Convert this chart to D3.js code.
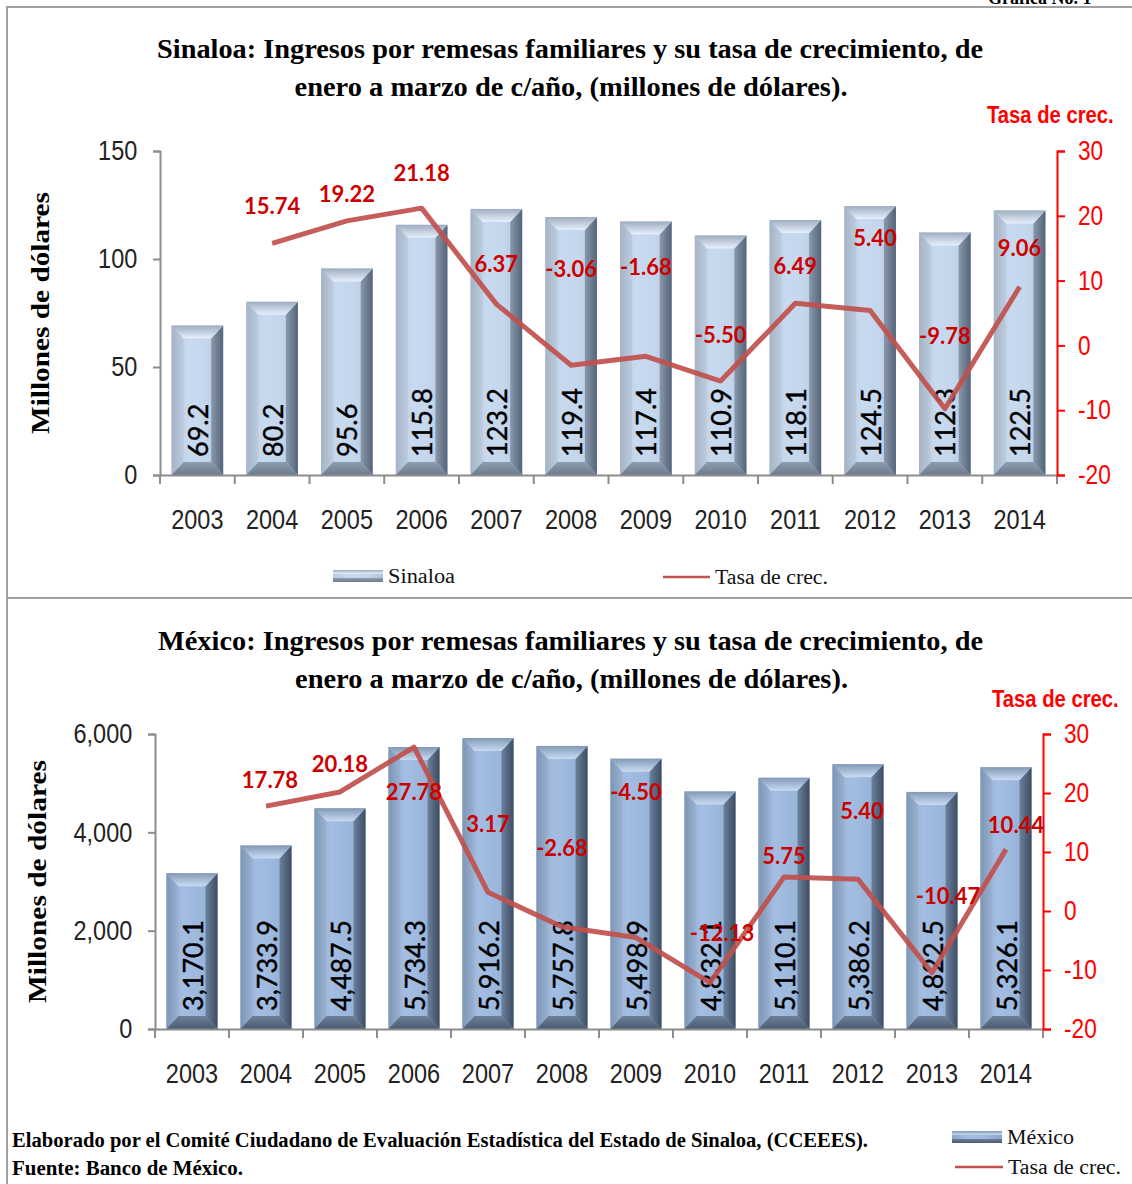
<!DOCTYPE html>
<html>
<head>
<meta charset="utf-8">
<script src="https://cdn.jsdelivr.net/npm/d3@7"></script>
<style>
    body { margin: 0; background: #fff; }
    svg { display: block; }
</style>
</head>
<body>
<svg id="chart" width="1132" height="1184"></svg>
<script>
// Data
var years = ["2003", "2004", "2005", "2006", "2007", "2008", "2009", "2010", "2011", "2012", "2013", "2014"];

var sinaloaRemesas = [69.2, 80.2, 95.6, 115.8, 123.2, 119.4, 117.4, 110.9, 118.1, 124.5, 112.3, 122.5];
var sinaloaTasa = [null, 15.74, 19.22, 21.18, 6.37, -3.06, -1.68, -5.50, 6.49, 5.40, -9.78, 9.06];

var mexicoRemesas = [3170.1, 3733.9, 4487.5, 5734.3, 5916.2, 5757.8, 5498.9, 4832.1, 5110.1, 5386.2, 4822.5, 5326.1];
var mexicoTasa = [null, 17.78, 20.18, 27.78, 3.17, -2.68, -4.50, -12.13, 5.75, 5.40, -10.47, 10.44];

var sinaloaTicks = [0, 50, 100, 150];
var mexicoTicks = [0, 2000, 4000, 6000];
var tasaTicks = [-20, -10, 0, 10, 20, 30];

// Label nudges (layout only), [dx, dy] from the line point
var sinaloaNudge = [null, [0, -38], [0, -27], [0, -36], [0, -41], [0, -97], [0, -90], [0, -47], [0, -38], [5, -73], [0, -73], [0, -39]];
var mexicoNudge = [null, [4, -27], [0, -28], [0, 44], [0, -69], [0, -79], [0, -146], [12, -50], [0, -22], [4, -69], [16, -77], [10, -25]];

var svg = d3.select("#chart");
var NARROW = "'Liberation Sans', Arial, sans-serif";
var SERIF = "'Liberation Serif', 'Times New Roman', serif";
var BODY = "Lato, Carlito, Calibri, sans-serif";
var SQUEEZE = "scale(0.84,1)"; // stands in for Arial Narrow

var defs = svg.append("defs");
// bevel shades per panel: face, top, left, right, bottom
makeBevel("top", {
    face: ["#b7c9df", "#c8daf0", "#c4d6ec", "#b2c4da"],
    top: ["#9eadc0", "#e6f0fb"],
    left: ["#a4b3c5", "#bccbdd"],
    right: ["#8a98aa", "#56647a"],
    bottom: ["#8e9cae", "#6d7b8e"]
});
makeBevel("bot", {
    face: ["#8ea9cc", "#a3bee2", "#9cb7dc", "#8ca6c9"],
    top: ["#8299b6", "#c9dbf2"],
    left: ["#7e96b5", "#9ab2d2"],
    right: ["#6d819c", "#3c4c62"],
    bottom: ["#6d8099", "#4a5a70"]
});

function makeBevel(id, c) {
    var f = defs.append("linearGradient").attr("id", id + "-face").attr("x1", 0).attr("x2", 1).attr("y1", 0).attr("y2", 0);
    c.face.forEach(function (s, i) { f.append("stop").attr("offset", (i / 3 * 100) + "%").attr("stop-color", s); });
    [["top", 0, 0, 0, 1], ["bottom", 0, 0, 0, 1], ["left", 0, 1, 0, 0], ["right", 0, 1, 0, 0]].forEach(function (p) {
        var g = defs.append("linearGradient").attr("id", id + "-" + p[0])
            .attr("x1", p[1]).attr("x2", p[2]).attr("y1", p[3]).attr("y2", p[4]);
        g.append("stop").attr("offset", "0%").attr("stop-color", c[p[0]][0]);
        g.append("stop").attr("offset", "100%").attr("stop-color", c[p[0]][1]);
    });
}

function plain(v) { return String(v); }
function fixed2(v) { return v.toFixed(2); }

// Frame
svg.append("line").attr("x1", 7).attr("x2", 1132).attr("y1", 7).attr("y2", 7)
    .attr("stroke", "#a0a0a0").attr("stroke-width", 2);
svg.append("line").attr("x1", 7).attr("x2", 7).attr("y1", 6).attr("y2", 1184)
    .attr("stroke", "#a0a0a0").attr("stroke-width", 2);
svg.append("line").attr("x1", 7).attr("x2", 1132).attr("y1", 598).attr("y2", 598)
    .attr("stroke", "#a0a0a0").attr("stroke-width", 2);
svg.append("text").attr("x", 988).attr("y", 4)
    .style("font-family", SERIF).style("font-weight", "bold").style("font-size", "18px")
    .text("Gráfica No. 1");

drawPanel({
    id: "top",
    title: ["Sinaloa: Ingresos por remesas familiares y su tasa de crecimiento, de",
            "enero a marzo de c/año, (millones de dólares)."],
    titleY: [58, 96], titleX: [157, 983],
    values: sinaloaRemesas, tasa: sinaloaTasa, nudge: sinaloaNudge,
    ticks: sinaloaTicks, format: plain,
    barFormat: d3.format(".1f"),
    left: 160, right: 1057, top: 151, bottom: 475,
    tasaLabelX: 987, tasaLabelY: 123,
    yTitleX: 40, yTitleLen: 242
});

drawPanel({
    id: "bot",
    title: ["México: Ingresos por remesas familiares y su tasa de crecimiento, de",
            "enero a marzo de c/año, (millones de dólares)."],
    titleY: [650, 688], titleX: [158, 983],
    values: mexicoRemesas, tasa: mexicoTasa, nudge: mexicoNudge,
    ticks: mexicoTicks, format: d3.format(","),
    barFormat: d3.format(",.1f"),
    left: 155, right: 1043, top: 734, bottom: 1029,
    tasaLabelX: 992, tasaLabelY: 707,
    yTitleX: 37, yTitleLen: 243
});

// Legends
legendBar(333, 576, "Sinaloa", "top");
legendLine(663, 710, 577, "Tasa de crec.");
legendBar(952, 1137, "México", "bot");
legendLine(955, 1003, 1167, "Tasa de crec.");

// Footer
svg.append("text").attr("x", 12).attr("y", 1147)
    .attr("textLength", 856).attr("lengthAdjust", "spacingAndGlyphs")
    .style("font-family", SERIF).style("font-weight", "bold").style("font-size", "20px")
    .text("Elaborado por el Comité Ciudadano de Evaluación Estadística del Estado de Sinaloa, (CCEEES).");
svg.append("text").attr("x", 12).attr("y", 1175)
    .attr("textLength", 231).attr("lengthAdjust", "spacingAndGlyphs")
    .style("font-family", SERIF).style("font-weight", "bold").style("font-size", "20px")
    .text("Fuente: Banco de México.");

function drawPanel(cfg) {
    var g = svg.append("g");

    // Title
    cfg.title.forEach(function (t, i) {
        g.append("text")
            .attr("x", (cfg.titleX[0] + cfg.titleX[1]) / 2 + (i ? 1 : 0))
            .attr("y", cfg.titleY[i])
            .attr("text-anchor", "middle")
            .attr("textLength", i === 0 ? cfg.titleX[1] - cfg.titleX[0] : 553)
            .attr("lengthAdjust", "spacingAndGlyphs")
            .style("font-family", SERIF).style("font-weight", "bold").style("font-size", "27px")
            .text(t);
    });

    var x = d3.scaleBand().domain(years).range([cfg.left, cfg.right]).paddingInner(0.31).paddingOuter(0.155);
    var y = d3.scaleLinear().domain([0, cfg.ticks[cfg.ticks.length - 1]]).range([cfg.bottom, cfg.top]);
    var y2 = d3.scaleLinear().domain([-20, 30]).range([cfg.bottom, cfg.top]);

    // Bars (bevelled)
    var bx = 12, by = 13;
    var bars = g.selectAll(".bar").data(cfg.values).enter().append("g").attr("class", "bar");
    bars.each(function (d, i) {
        var b = d3.select(this);
        var x0 = x(years[i]), w = x.bandwidth(), y0 = y(d), y1 = y(0);
        b.append("rect").attr("x", x0).attr("y", y0).attr("width", w).attr("height", y1 - y0)
            .attr("fill", "url(#" + cfg.id + "-face)");
        b.append("polygon").attr("points", [[x0, y0], [x0 + bx, y0 + by], [x0 + bx, y1 - by], [x0, y1]].join(" "))
            .attr("fill", "url(#" + cfg.id + "-left)");
        b.append("polygon").attr("points", [[x0 + w, y0], [x0 + w - bx, y0 + by], [x0 + w - bx, y1 - by], [x0 + w, y1]].join(" "))
            .attr("fill", "url(#" + cfg.id + "-right)");
        b.append("polygon").attr("points", [[x0, y0], [x0 + w, y0], [x0 + w - bx, y0 + by], [x0 + bx, y0 + by]].join(" "))
            .attr("fill", "url(#" + cfg.id + "-top)");
        b.append("polygon").attr("points", [[x0, y1], [x0 + w, y1], [x0 + w - bx, y1 - by], [x0 + bx, y1 - by]].join(" "))
            .attr("fill", "url(#" + cfg.id + "-bottom)");
        b.append("text")
            .attr("transform", "translate(" + (x0 + w / 2) + "," + (y1 - 18) + ") rotate(-90)")
            .attr("dominant-baseline", "central")
            .style("font-family", BODY).style("font-size", "27px").style("fill", "#000")
            .style("stroke", "#000").style("stroke-width", 0.4)
            .text(cfg.barFormat(d));
    });

    // Left axis
    var ay = g.append("g").attr("transform", "translate(" + cfg.left + ",0)")
        .call(d3.axisLeft(y).tickValues(cfg.ticks).tickFormat(cfg.format).tickSize(7).tickPadding(20));
    ay.select(".domain").attr("stroke", "#8c8c8c").attr("stroke-width", 2);
    ay.selectAll(".tick line").attr("stroke", "#8c8c8c").attr("stroke-width", 2);
    ay.selectAll(".tick text").attr("transform", SQUEEZE)
        .style("font-family", NARROW).style("font-size", "28px").style("fill", "#222");

    // Bottom axis
    var ax = g.append("g").attr("transform", "translate(0," + cfg.bottom + ")")
        .call(d3.axisBottom(x).tickSize(0).tickPadding(34));
    ax.select(".domain").attr("stroke", "#8c8c8c").attr("stroke-width", 2);
    ax.selectAll(".tick text").attr("transform", SQUEEZE)
        .style("font-family", NARROW).style("font-size", "28px").style("fill", "#222");
    var bounds = d3.range(years.length + 1).map(function (i) { return cfg.left + (cfg.right - cfg.left) * i / years.length; });
    g.selectAll(".xtick").data(bounds).enter().append("line")
        .attr("x1", function (d) { return d; }).attr("x2", function (d) { return d; })
        .attr("y1", cfg.bottom).attr("y2", cfg.bottom + 9)
        .attr("stroke", "#8c8c8c").attr("stroke-width", 2);

    // Right axis
    var ar = g.append("g").attr("transform", "translate(" + cfg.right + ",0)")
        .call(d3.axisRight(y2).tickValues(tasaTicks).tickFormat(plain).tickSize(8).tickPadding(17));
    ar.select(".domain").attr("stroke", "#ff0000").attr("stroke-width", 2);
    ar.selectAll(".tick line").attr("stroke", "#ff0000").attr("stroke-width", 2);
    ar.selectAll(".tick text").attr("transform", SQUEEZE)
        .style("font-family", NARROW).style("font-size", "27px").style("fill", "#ff0000");

    g.append("text")
        .attr("transform", "translate(" + cfg.tasaLabelX + "," + cfg.tasaLabelY + ") scale(0.88,1)")
        .style("font-family", NARROW).style("font-weight", "bold").style("font-size", "23px").style("fill", "#ff0000")
        .text("Tasa de crec.");

    // Y title
    g.append("text")
        .attr("transform", "translate(" + cfg.yTitleX + "," + (cfg.top + cfg.bottom) / 2 + ") rotate(-90)")
        .attr("text-anchor", "middle").attr("dominant-baseline", "central")
        .attr("textLength", cfg.yTitleLen).attr("lengthAdjust", "spacingAndGlyphs")
        .style("font-family", SERIF).style("font-weight", "bold").style("font-size", "25px")
        .text("Millones de dólares");

    // Line
    var pts = cfg.tasa.map(function (v, i) { return { v: v, i: i }; }).filter(function (p) { return p.v !== null; });
    var line = d3.line()
        .x(function (p) { return x(years[p.i]) + x.bandwidth() / 2; })
        .y(function (p) { return y2(p.v); });
    g.append("path").datum(pts).attr("d", line)
        .attr("fill", "none").attr("stroke", "#c0504d").attr("stroke-width", 5)
        .attr("stroke-linejoin", "round").attr("opacity", 0.92);

    g.selectAll(".rate").data(pts).enter().append("text")
        .attr("x", function (p) { return x(years[p.i]) + x.bandwidth() / 2 + cfg.nudge[p.i][0]; })
        .attr("y", function (p) { return y2(p.v) + cfg.nudge[p.i][1]; })
        .attr("text-anchor", "middle").attr("dominant-baseline", "central")
        .style("font-family", BODY).style("font-weight", "bold").style("font-size", "22px").style("fill", "#cc0000")
        .text(function (p) { return fixed2(p.v); });
}

function legendBar(x0, yc, label, id) {
    svg.append("rect").attr("x", x0).attr("y", yc - 6).attr("width", 50).attr("height", 12)
        .attr("fill", "url(#" + id + "-face)");
    svg.append("rect").attr("x", x0).attr("y", yc - 6).attr("width", 50).attr("height", 4).attr("fill", "url(#" + id + "-top)");
    svg.append("rect").attr("x", x0).attr("y", yc + 2).attr("width", 50).attr("height", 4).attr("fill", "url(#" + id + "-bottom)");
    svg.append("text").attr("x", x0 + 55).attr("y", yc + 7)
        .style("font-family", SERIF).style("font-size", "20px").style("fill", "#111")
        .attr("textLength", 67).attr("lengthAdjust", "spacingAndGlyphs")
        .text(label);
}

function legendLine(x1, x2, yc, label) {
    svg.append("line").attr("x1", x1).attr("x2", x2).attr("y1", yc).attr("y2", yc)
        .attr("stroke", "#c0504d").attr("stroke-width", 2.5);
    svg.append("text").attr("x", x2 + 5).attr("y", yc + 7)
        .style("font-family", SERIF).style("font-size", "20px").style("fill", "#111")
        .attr("textLength", 113).attr("lengthAdjust", "spacingAndGlyphs")
        .text(label);
}
</script>
</body>
</html>
